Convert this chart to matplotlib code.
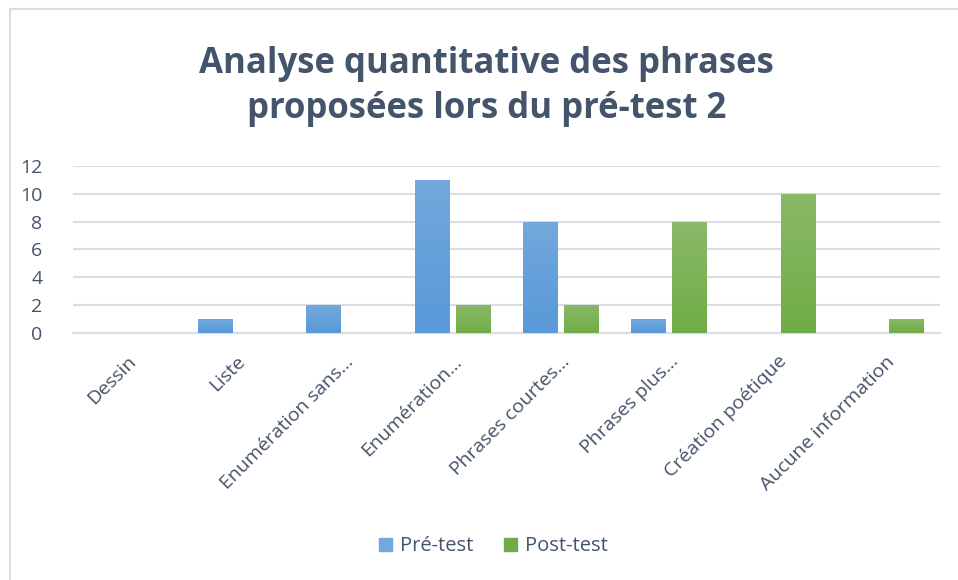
import numpy as np
import matplotlib.pyplot as plt
from matplotlib.lines import Line2D
from matplotlib.patches import Patch
from matplotlib.colors import LinearSegmentedColormap

# data
categories = ["Dessin", "Liste", "Enumération sans…", "Enumération…",
              "Phrases courtes…", "Phrases plus…", "Création poétique",
              "Aucune information"]
pre_test = [0, 1, 2, 11, 8, 1, 0, 0]
post_test = [0, 0, 0, 2, 2, 8, 10, 1]
series_names = ["Pré-test", "Post-test"]
yticks = [0, 2, 4, 6, 8, 10, 12]

# style
BLUE = ("#5899d8", "#73a8dc")    # bottom, top
GREEN = ("#6fad46", "#8ab968")
TEXT = "#44546a"
GRID = "#dadde3"
FONT = "Open Sans"

plt.rcParams["font.family"] = [FONT, "DejaVu Sans"]


def gradient_bars(ax, bars, colors):
    # vertical gradient clipped to each bar
    cmap = LinearSegmentedColormap.from_list("g", colors)
    grad = np.linspace(0, 1, 256).reshape(-1, 1)
    for b in bars:
        if b.get_height() <= 0:
            continue
        b.set_facecolor("none")
        x0, y0 = b.get_x(), b.get_y()
        im = ax.imshow(grad, cmap=cmap, origin="lower", aspect="auto",
                       extent=(x0, x0 + b.get_width(), y0, y0 + b.get_height()),
                       zorder=3)
        im.set_clip_path(b)


fig = plt.figure(figsize=(9.58, 5.8), dpi=100)
ax = fig.add_axes([0.0762, 0.4259, 0.9048, 0.2879])

x = np.arange(len(categories))
w = 0.315
off = 0.19
b1 = ax.bar(x - off, pre_test, width=w, color=BLUE[0], linewidth=0, zorder=3)
b2 = ax.bar(x + off, post_test, width=w, color=GREEN[0], linewidth=0, zorder=3)
gradient_bars(ax, b1, BLUE)
gradient_bars(ax, b2, GREEN)

ax.set_xlim(-0.5, len(categories) - 0.5)
ax.set_ylim(0, 12)
ax.set_yticks(yticks)
ax.yaxis.grid(True, color=GRID, linewidth=1.5, zorder=0)
ax.set_axisbelow(True)
for s in ["top", "right", "left"]:
    ax.spines[s].set_visible(False)
ax.spines["bottom"].set_color(GRID)
ax.spines["bottom"].set_linewidth(1.5)
ax.tick_params(axis="both", length=0, labelcolor=TEXT)
ax.tick_params(axis="y", labelsize=14, pad=22)

ax.set_xticks(x)
ax.set_xticklabels(categories, rotation=45, ha="right", rotation_mode="anchor",
                   fontsize=14)
ax.tick_params(axis="x", pad=14)

fig.text(0.508, 0.851, "Analyse quantitative des phrases\nproposées lors du pré-test 2",
         ha="center", va="center", fontsize=25, fontweight="bold", color=TEXT,
         linespacing=1.35)

handles = [Patch(color=BLUE[1]), Patch(color=GREEN[0])]
fig.legend(handles, series_names, loc="center", bbox_to_anchor=(0.515, 0.058),
           ncol=2, frameon=False, fontsize=14.5, labelcolor=TEXT,
           handlelength=0.65, handleheight=0.65, handletextpad=0.4, columnspacing=1.5)

# chart frame (left and top edges visible)
fig.add_artist(Line2D([0.0105, 0.0105], [0, 0.984], color=GRID, linewidth=1.5))
fig.add_artist(Line2D([0.0105, 1.0], [0.984, 0.984], color=GRID, linewidth=1.5))

fig.savefig("out.png", dpi=100)
